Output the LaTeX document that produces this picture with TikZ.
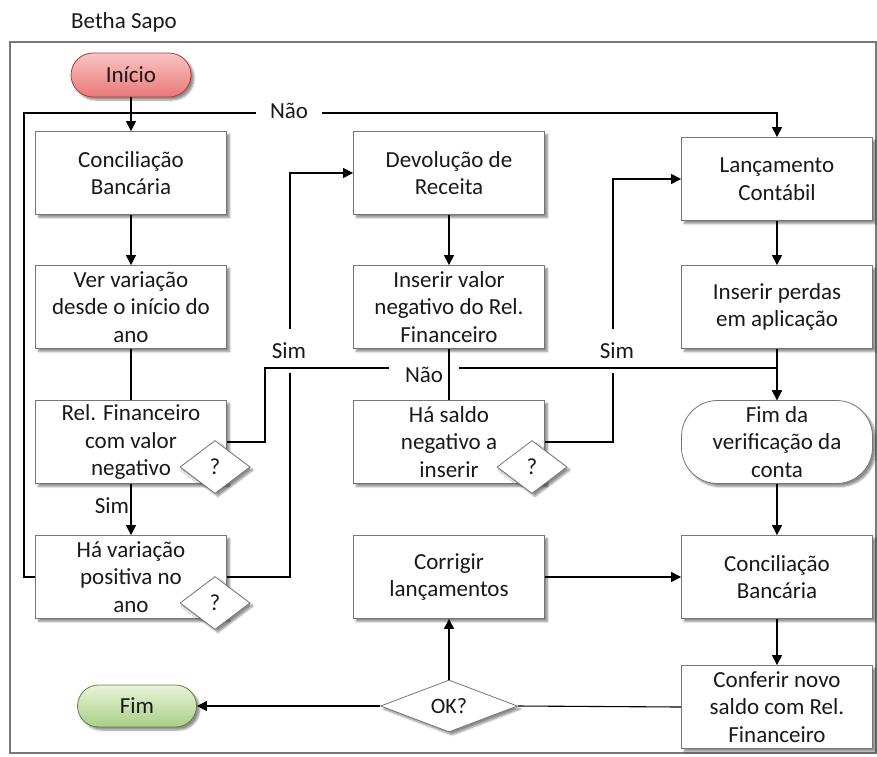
\documentclass[tikz,border=0pt]{standalone}
\usepackage{fontspec}
\setmainfont{Carlito}
\usetikzlibrary{shapes.geometric,arrows.meta,shadows.blur}

\definecolor{boxline}{RGB}{118,118,118}
\definecolor{frameline}{RGB}{120,120,120}
\definecolor{inktext}{RGB}{25,25,25}
\definecolor{startTop}{RGB}{250,196,196}
\definecolor{startBot}{RGB}{234,120,120}
\definecolor{startLine}{RGB}{170,60,60}
\definecolor{endTop}{RGB}{232,244,218}
\definecolor{endBot}{RGB}{170,206,134}
\definecolor{endLine}{RGB}{95,130,70}

\begin{document}
\begin{tikzpicture}[x=1pt,y=-1pt,
  font=\fontsize{23}{27.5}\selectfont,
  softshadow/.style={blur shadow={shadow xshift=3pt,shadow yshift=-3pt,
      shadow blur steps=6,shadow opacity=45}},
  stepbox/.style={draw=boxline,line width=0.8pt,fill=white,text=inktext,
      minimum width=191pt,minimum height=83pt,align=center,inner sep=2pt,
      softshadow},
  roundbox/.style={stepbox,rounded corners=36pt},
  askmark/.style={diamond,draw=boxline,line width=0.8pt,fill=white,
      text=inktext,inner sep=0pt,minimum width=70pt,minimum height=53pt,
      font=\fontsize{23}{26}\selectfont,softshadow},
  startpill/.style={draw=startLine,line width=0.8pt,rounded corners=22pt,
      top color=startTop,bottom color=startBot,text=inktext,
      minimum width=120pt,minimum height=44pt,softshadow},
  endpill/.style={draw=endLine,line width=0.8pt,rounded corners=21pt,
      top color=endTop,bottom color=endBot,text=inktext,
      minimum width=119pt,minimum height=42pt,softshadow},
  lbl/.style={text=inktext,inner sep=1pt},
  gaplbl/.style={lbl,fill=white},
  ln/.style={draw=black,line width=1.1pt},
  arr/.style={ln,-{Triangle[length=10pt,width=10pt]}},
]
\useasboundingbox (0,0) rectangle (877,756);

% outer frame and title
\draw[frameline,line width=1.3pt] (10,42) rectangle (876,753);
\node[lbl] (title) at (124,22) {Betha Sapo};

% first column
\node[startpill] (ini) at (131,75) {Início};
\node[stepbox] (c1) at (131,173) {Conciliação\\Bancária};
\node[stepbox] (vv) at (131,307) {Ver variação\\desde o início do\\ano};
\node[stepbox] (rf) at (131,442) {Rel. Financeiro\\com valor\\negativo};
\node[stepbox] (hv) at (131,577) {Há variação\\positiva no\\ano};
\node[askmark] (q1) at (215,467) {?};
\node[askmark] (q2) at (215,603) {?};

% second column
\node[stepbox] (dr) at (449,173) {Devolução de\\Receita};
\node[stepbox] (ir) at (449,307) {Inserir valor\\negativo do Rel.\\Financeiro};
\node[stepbox] (hs) at (449,442) {Há saldo\\negativo a\\inserir};
\node[askmark] (q3) at (532,467) {?};
\node[stepbox] (cr) at (449,577) {Corrigir\\lançamentos};

% third column
\node[stepbox] (lc) at (777,179) {Lançamento\\Contábil};
\node[stepbox] (ip) at (777,307) {Inserir perdas\\em aplicação};
\node[roundbox] (fv) at (777,442) {Fim da\\verificação da\\conta};
\node[stepbox] (cb) at (777,577) {Conciliação\\Bancária};
\node[stepbox] (cf) at (777,707) {Conferir novo\\saldo com Rel.\\Financeiro};

% bottom row
\node[askmark,minimum width=137pt,minimum height=52pt,
      font=\fontsize{22}{26}\selectfont] (ok) at (449,706) {OK?};
\node[endpill] (fim) at (137,706) {Fim};

% jog points of the routed connectors
\coordinate (loopL) at (24,113);
\coordinate (simX1) at (290,0);
\coordinate (simX2) at (613,0);
\coordinate (naoJ) at (265,368);

% main flow
\draw[arr] (ini) -- (c1);
\draw[arr] (c1) -- (vv);
\draw[ln] (vv) -- (rf);
\draw[arr] (rf) -- (hv);
\node[lbl] (simA) at (112,506) {Sim};

% "Não" back to Lançamento Contábil
\draw[arr] (hv.west) -| (loopL) -| (lc.north);
\node[gaplbl,inner xsep=14pt] (naoA) at (289,111) {Não};

% "Sim" branches
\draw[arr] (hv.east) -- (hv.east -| simX1) |- (dr.west);
\node[gaplbl,minimum height=44pt] (simB) at (289,351) {Sim};
\draw[arr] (hs.east) -- (hs.east -| simX2) |- (lc.west);
\node[gaplbl,minimum height=44pt] (simC) at (617,351) {Sim};

% "Não" to the end of the check
\draw[arr] (rf.east) -| (naoJ) -| (fv.north);
\node[gaplbl,inner xsep=16pt] (naoB) at (424,375) {Não};

% second and third columns
\draw[arr] (dr) -- (ir);
\draw[ln] (ir) -- (hs);
\draw[arr] (lc) -- (ip);
\draw[arr] (ip) -- (fv);
\draw[arr] (fv) -- (cb);
\draw[arr] (cr) -- (cb);
\draw[arr] (cb) -- (cf);

% final check
\draw[ln] (cf.west) -- (ok.east);
\draw[arr] (ok.west) -- (fim.east);
\draw[arr] (ok.north) -- (cr.south);
\end{tikzpicture}
\end{document}
